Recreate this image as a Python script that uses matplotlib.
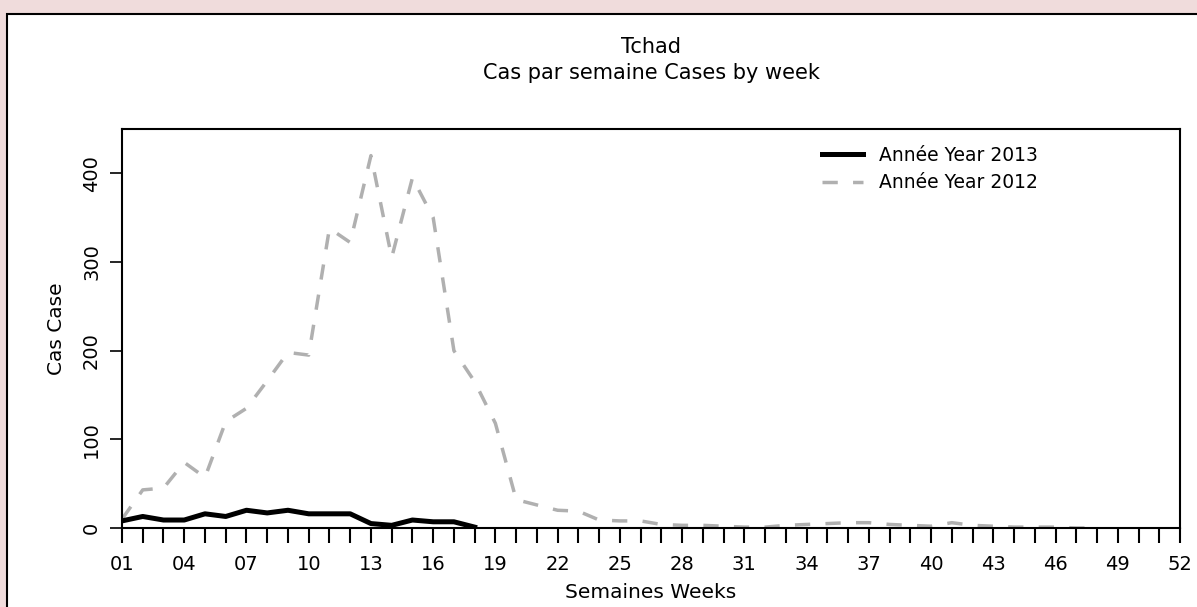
import numpy as np
import matplotlib
matplotlib.use("Agg")
import matplotlib.pyplot as plt
from matplotlib.patches import Rectangle

# semaines et cas hebdomadaires
weeks_2013 = list(range(1, 19))
cases_2013 = [8, 13, 9, 9, 16, 13, 20, 17, 20, 16, 16, 16, 5, 3, 9, 7, 7, 1]

weeks_2012 = list(range(1, 49))
cases_2012 = [10, 43, 45, 74, 57, 120, 135, 166, 198, 195,
              338, 322, 420, 305, 395, 350, 200, 165, 118, 32,
              26, 20, 19, 9, 8, 8, 4, 3, 3, 2,
              1, 1, 3, 4, 5, 6, 6, 4, 3, 2,
              6, 3, 2, 1, 1, 1, 0, 0]

xtick_weeks = list(range(1, 53, 3))
xtick_labels = ["%02d" % w for w in xtick_weeks]
ytick_vals = [0, 100, 200, 300, 400]

plt.rcParams['font.family'] = ['DejaVu Sans']

W, H = 1197, 607
fig = plt.figure(figsize=(W / 100, H / 100), dpi=100, facecolor='#f0dcdc')

# panneau blanc avec bordure
panel = Rectangle((7 / W, -0.01), 1.0, (H - 14) / H + 0.01, transform=fig.transFigure,
                  facecolor='white', edgecolor='black', linewidth=1.5, zorder=-10)
fig.patches.append(panel)

left, right, top, bottom = 122, 1180, 129, 528
ax = fig.add_axes([left / W, (H - bottom) / H, (right - left) / W, (bottom - top) / H])
ax.set_facecolor('white')

ax.plot(weeks_2013, cases_2013, color='black', linewidth=3.6, solid_joinstyle='round',
        label='Année Year 2013', zorder=3)
l12, = ax.plot(weeks_2012, cases_2012, color='#b0b0b0', linewidth=2.5,
               label='Année Year 2012', zorder=2)
l12.set_dashes((4.4, 4.4))

ax.set_xlim(1, 52)
ax.set_ylim(0, 450)

ax.set_xticks(xtick_weeks)
ax.set_xticklabels(xtick_labels)
ax.set_xticks(list(range(1, 53)), minor=True)
ax.tick_params(axis='x', which='both', direction='out', length=10.8, width=1.5,
               pad=8.5, labelsize=14)
ax.set_yticks(ytick_vals)
ax.set_yticklabels([str(v) for v in ytick_vals], rotation=90, va='center')
ax.tick_params(axis='y', direction='out', length=8.6, width=1.2, pad=6.5, labelsize=14)

for s in ax.spines.values():
    s.set_linewidth(1.5)
    s.set_color('black')

ax.set_xlabel('Semaines Weeks', fontsize=14.5, va='center')
ax.xaxis.set_label_coords(0.5, -(593 - bottom) / (bottom - top))
ax.set_ylabel('Cas Case', fontsize=14.5, va='center')
ax.yaxis.set_label_coords(-(left - 57) / (right - left), 0.5)

fig.text(651 / W, 1 - 47 / H, 'Tchad', ha='center', va='center', fontsize=15)
fig.text(651 / W, 1 - 73 / H, 'Cas par semaine Cases by week', ha='center', va='center',
         fontsize=15)

ax.legend(loc='upper left', bbox_to_anchor=((822 - left) / (right - left), 0.958),
          frameon=False, fontsize=13.5, handlelength=2.2, handletextpad=0.85,
          labelspacing=0.45, borderaxespad=0, borderpad=0)

fig.savefig('out.png', dpi=100, facecolor=fig.get_facecolor())
